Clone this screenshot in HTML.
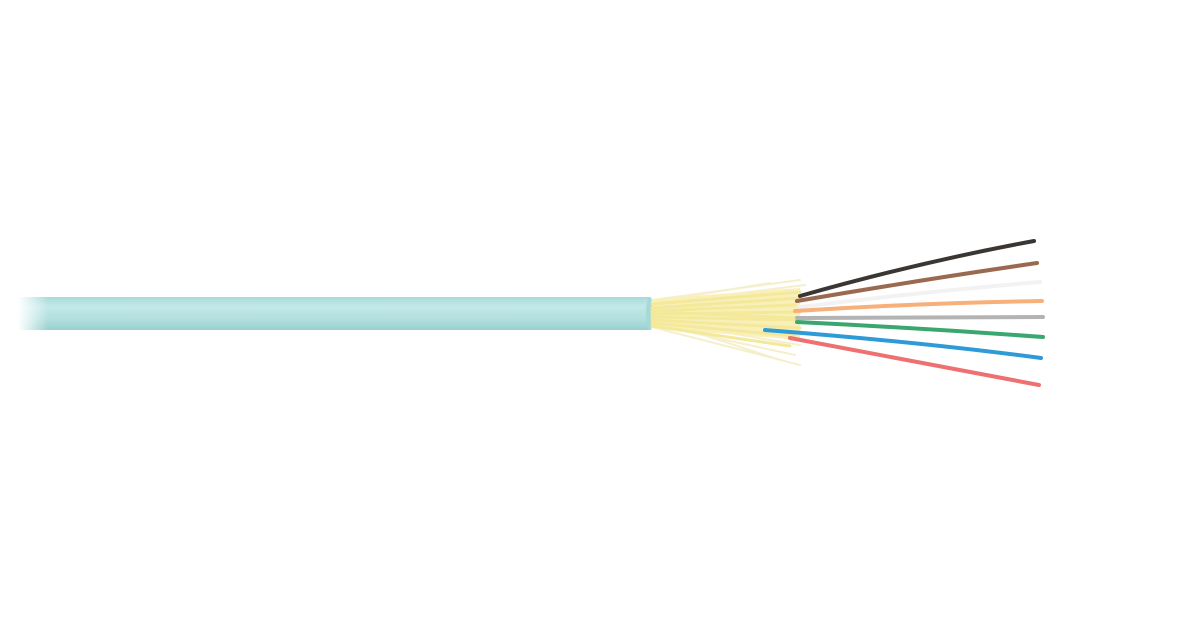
<!DOCTYPE html>
<html><head><style>
html,body{margin:0;padding:0;background:#fff;width:1200px;height:630px;overflow:hidden}
</style></head><body>
<svg width="1200" height="630" viewBox="0 0 1200 630" xmlns="http://www.w3.org/2000/svg">
<defs>
<linearGradient id="cab" x1="0" y1="0" x2="0" y2="1">
<stop offset="0" stop-color="#a8dada"/>
<stop offset="0.3" stop-color="#c4e8e8"/>
<stop offset="0.7" stop-color="#b0dede"/>
<stop offset="1" stop-color="#98d0d0"/>
</linearGradient>
<linearGradient id="fade" x1="0" y1="0" x2="1" y2="0">
<stop offset="0" stop-color="#fff" stop-opacity="1"/>
<stop offset="1" stop-color="#fff" stop-opacity="0"/>
</linearGradient>
</defs>
<rect x="18" y="297" width="632" height="33" fill="url(#cab)"/>
<rect x="18" y="296" width="30" height="35" fill="url(#fade)"/>
<ellipse cx="650" cy="313.5" rx="4" ry="16.5" fill="#a5d9d9"/>
<g stroke-linecap="round" fill="none">
<g stroke="#f3ecc0" stroke-width="2" opacity="0.8">
<path d="M652 300 L800 280"/><path d="M652 304 L805 285"/><path d="M652 308 L790 292"/>
<path d="M652 320 L800 345"/><path d="M652 324 L795 355"/><path d="M652 327 L800 365"/>
<path d="M652 318 L780 360"/><path d="M652 302 L770 283"/>
</g>
<path d="M652 299 L800 288 L800 340 L652 328 Z" fill="#f8f0b8" stroke="none"/>
<g stroke="#f4e89a" stroke-width="3">
<path d="M652 304 L800 292"/><path d="M652 308 L800 298"/><path d="M652 311 L795 305"/>
<path d="M652 314 L800 312"/><path d="M652 317 L795 320"/><path d="M652 320 L800 328"/>
<path d="M652 323 L795 336"/><path d="M652 326 L790 346"/><path d="M652 312 L800 318"/>
</g>
<path d="M800 296 Q920 262 1034 241" stroke="#3a3634" stroke-width="4"/>
<path d="M797 301 Q920 280 1037 263" stroke="#9a6a50" stroke-width="4"/>
<path d="M800 307 Q920 292 1040 282" stroke="#f2f2f2" stroke-width="4"/>
<path d="M795 311 Q920 303 1042 301" stroke="#f8b07a" stroke-width="4"/>
<path d="M797 318 Q920 317 1043 317" stroke="#b3b3b3" stroke-width="4"/>
<path d="M797 322 Q920 328 1043 337" stroke="#3aa670" stroke-width="4"/>
<path d="M765 330 Q920 342 1041 358" stroke="#2e9ad8" stroke-width="4"/>
<path d="M790 338 Q920 362 1039 385" stroke="#ee7070" stroke-width="4"/>
</g>
</svg>
</body></html>
